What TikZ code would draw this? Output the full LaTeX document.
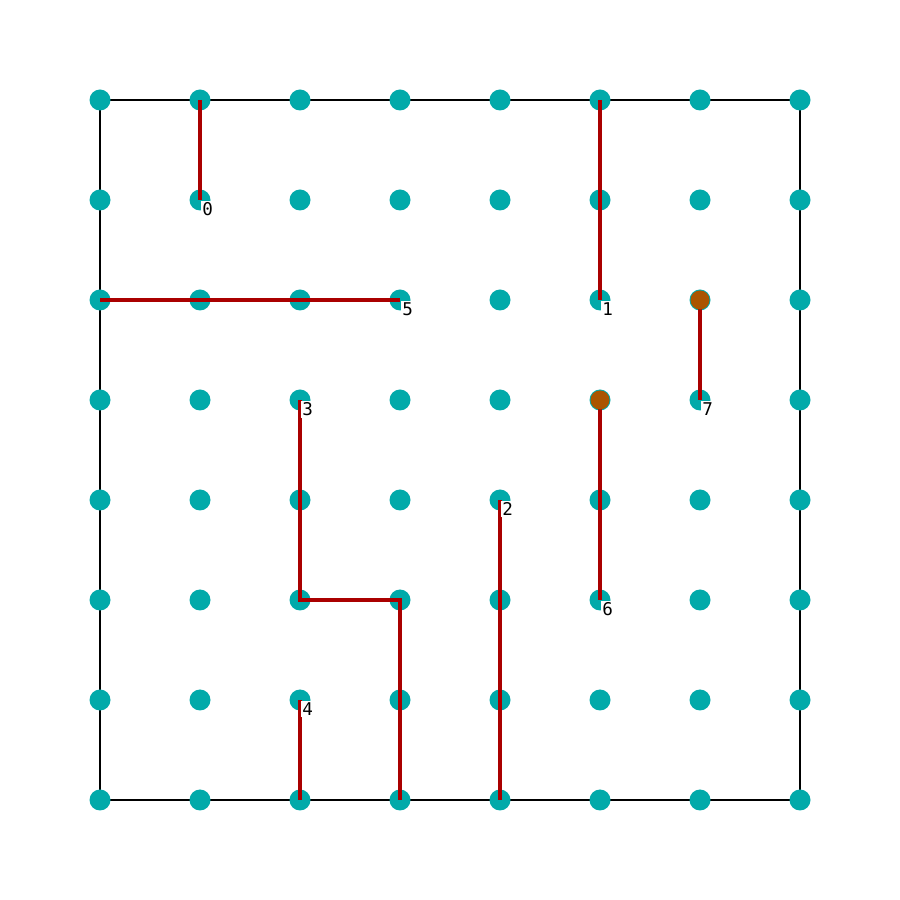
\documentclass[tikz,border=0pt]{standalone}
\usepackage{fontspec}
\setmainfont{DejaVu Sans}
\setmonofont{DejaVu Sans Mono}
\usepackage{tikz}
\definecolor{GridTeal}{RGB}{0,170,170}
\definecolor{WallRed}{RGB}{170,0,0}
\definecolor{StartOrange}{RGB}{170,85,0}

\begin{document}
\begin{tikzpicture}[
      dot/.style={circle, fill=GridTeal, minimum size=0.21cm, inner sep=0pt},
      mark dot/.style={circle, fill=StartOrange, minimum size=0.19cm, inner sep=0pt},
      wall/.style={draw=WallRed, line width=1.15pt},
      tag/.style={anchor=north west, fill=white, inner sep=0.5pt,
                  font=\ttfamily\fontsize{5}{5}\selectfont}
    ]
    \useasboundingbox (0,0) rectangle (9,9);

    % outer frame
    \draw[black, line width=0.55pt] (1,8) rectangle (8,1);

    % grid of points, p-column-row
    \foreach \c in {1,...,8}{
      \foreach \r in {1,...,8}{
        \node[dot] (p-\c-\r) at (\c, 9-\r) {};
      }
    }

    % walls
    \draw[wall] (p-2-1.center) -- (p-2-2.center);
    \draw[wall] (p-6-1.center) -- (p-6-3.center);
    \draw[wall] (p-1-3.center) -- (p-4-3.center);
    \draw[wall] (p-7-3.center) -- (p-7-4.center);
    \draw[wall] (p-3-4.center) -- (p-3-6.center) -- (p-4-6.center) -- (p-4-8.center);
    \draw[wall] (p-6-4.center) -- (p-6-6.center);
    \draw[wall] (p-5-5.center) -- (p-5-8.center);
    \draw[wall] (p-3-7.center) -- (p-3-8.center);

    \node[mark dot] (m1) at (p-7-3) {};
    \node[mark dot] (m2) at (p-6-4) {};

    % labels
    \foreach \c/\r/\t in {2/2/0, 6/3/1, 5/5/2, 3/4/3, 3/7/4, 4/3/5, 6/6/6, 7/4/7}{
      \node[tag] (t-\t) at (p-\c-\r.center) {\t};
    }
  \end{tikzpicture}
\end{document}
